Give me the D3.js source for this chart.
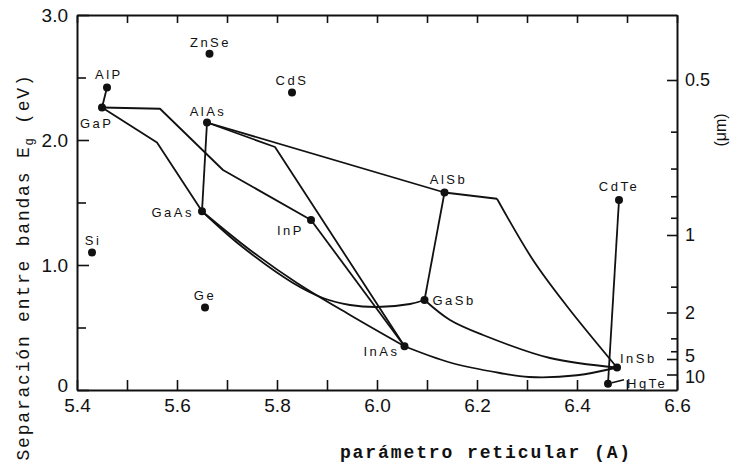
<!DOCTYPE html>
<html>
<head>
<meta charset="utf-8">
<script src="https://cdn.jsdelivr.net/npm/d3@7"></script>
<style>
  body { margin: 0; background: #fff; }
  svg { display: block; }
  .axis .tick text { font-family: "Liberation Sans", Arial, sans-serif; font-size: 19px; fill: #111; }
  .axis.right .tick text { font-size: 18px; }
  .axis path { stroke: #111; stroke-width: 2; }
  .axis line { stroke: #111; stroke-width: 1.6; }
  .compound { font-family: "Liberation Sans", Arial, sans-serif; font-size: 13px; letter-spacing: 2.5px; fill: #111; }
  .alloy { fill: none; stroke: #111; stroke-width: 1.8; stroke-linejoin: round; }
</style>
</head>
<body>
<script>
// compounds: lattice constant (A) and band gap (eV)
var compounds    = ["AlP", "GaP", "ZnSe", "CdS", "AlAs", "GaAs", "InP", "Si", "Ge", "AlSb", "GaSb", "InAs", "InSb", "HgTe", "CdTe"];
var latticeConst = [5.46, 5.45, 5.665, 5.83, 5.66, 5.65, 5.868, 5.43, 5.656, 6.135, 6.095, 6.055, 6.48, 6.462, 6.484];
var bandGap      = [2.42, 2.26, 2.69, 2.38, 2.14, 1.43, 1.36, 1.10, 0.66, 1.58, 0.72, 0.35, 0.18, 0.05, 1.52];

// alloy lines drawn as straight segments [a, Eg]
var alpGap   = [[5.46, 2.42], [5.45, 2.26]];
var gaasp    = [[5.45, 2.26], [5.56, 1.98], [5.65, 1.43]];
var gainp    = [[5.45, 2.26], [5.566, 2.25], [5.692, 1.76], [5.868, 1.36]];
var alGaAs   = [[5.66, 2.14], [5.65, 1.43]];
var alInAs   = [[5.66, 2.14], [5.796, 1.944], [6.055, 0.35]];
var inAsP    = [[5.868, 1.36], [6.055, 0.35]];
var alAsSb   = [[5.66, 2.14], [6.135, 1.58]];
var alGaSb   = [[6.135, 1.58], [6.095, 0.72]];
var alInSbTop = [[6.135, 1.58], [6.24, 1.53]];
var cdHgTe   = [[6.484, 1.52], [6.462, 0.05]];

// alloy lines with bowing (curved)
var gaAsSb   = [[5.65, 1.43], [5.726, 1.16], [5.832, 0.856], [5.892, 0.736], [5.946, 0.68], [6.0, 0.664], [6.066, 0.688], [6.095, 0.72]];
var gaInAs   = [[5.65, 1.43], [5.746, 1.12], [5.84, 0.856], [5.946, 0.6], [6.055, 0.35]];
var gaInSb   = [[6.095, 0.72], [6.146, 0.56], [6.212, 0.44], [6.346, 0.256], [6.48, 0.18]];
var inAsSb   = [[6.055, 0.35], [6.146, 0.22], [6.246, 0.136], [6.304, 0.104], [6.4, 0.118], [6.48, 0.18]];
var alInSb   = [[6.24, 1.53], [6.312, 1.04], [6.38, 0.67], [6.48, 0.18]];

var straightLines = [alpGap, gaasp, gainp, alGaAs, alInAs, inAsP, alAsSb, alGaSb, alInSbTop, cdHgTe];
var curvedLines = [gaAsSb, gaInAs, gaInSb, inAsSb, alInSb];

// axis ticks
var xTickValues = [5.4, 5.5, 5.6, 5.7, 5.8, 5.9, 6.0, 6.1, 6.2, 6.3, 6.4, 6.5, 6.6];
var xTickLabels = ["5.4", "", "5.6", "", "5.8", "", "6.0", "", "6.2", "", "6.4", "", "6.6"];
var yTickValues = [0, 0.5, 1, 1.5, 2, 2.5, 3];
var yTickLabels = ["0", "", "1.0", "", "2.0", "", "3.0"];
var wavelengths = [0.5, 0.6, 0.7, 0.8, 0.9, 1, 1.5, 2, 3, 4, 5, 10];
var wlLabels    = ["0.5", "", "", "", "", "1", "", "2", "", "", "5", "10"];

// label placement relative to the dot: [dx, dy, anchor]
var labelPos = {
  AlP: [-12, -9, "start"], GaP: [-22, 20, "start"], ZnSe: [1, -7, "middle"], CdS: [0, -8, "middle"],
  AlAs: [1, -7, "middle"], GaAs: [-8, 6, "end"], InP: [-7, 15, "end"], Si: [1, -8, "middle"],
  Ge: [0, -8, "middle"], AlSb: [4, -9, "middle"], GaSb: [8, 5, "start"], InAs: [-5, 10, "end"],
  InSb: [3, -5, "start"], HgTe: [19, 4, "start"], CdTe: [0, -9, "middle"]
};

var margin = {top: 15, right: 58, bottom: 81, left: 77},
    width = 735 - margin.left - margin.right,
    height = 471 - margin.top - margin.bottom;

var x = d3.scaleLinear().domain([5.4, 6.6]).range([0, width]);
var y = d3.scaleLinear().domain([0, 3]).range([height, 0]);

var root = d3.select("body").append("svg")
    .attr("width", width + margin.left + margin.right)
    .attr("height", height + margin.top + margin.bottom);

var svg = root.append("g")
    .attr("transform", "translate(" + margin.left + "," + margin.top + ")");

// axes, ticks pointing inward
svg.append("g")
    .attr("class", "axis")
    .attr("transform", "translate(0," + height + ")")
    .call(d3.axisBottom(x).tickValues(xTickValues).tickSize(-10).tickSizeOuter(0)
      .tickPadding(9).tickFormat(function(d, i) { return xTickLabels[i]; }));

svg.append("g")
    .attr("class", "axis")
    .call(d3.axisTop(x).tickValues(xTickValues).tickSize(-8).tickSizeOuter(0).tickFormat(""));

var yAxis = svg.append("g")
    .attr("class", "axis")
    .call(d3.axisLeft(y).tickValues(yTickValues).tickSize(-12).tickSizeOuter(0)
      .tickPadding(9).tickFormat(function(d, i) { return yTickLabels[i]; }));
yAxis.selectAll(".tick line").attr("x2", function(d, i) { return yTickLabels[i] ? 12 : 9; });
// the "0" sits a little above the corner
yAxis.selectAll(".tick text").filter(function(d) { return d === 0; }).attr("dy", "0.1em");

var rAxis = svg.append("g")
    .attr("class", "axis right")
    .attr("transform", "translate(" + width + ",0)")
    .call(d3.axisRight(y).tickValues(wavelengths.map(function(l) { return 1.24 / l; }))
      .tickSize(-10).tickSizeOuter(0).tickPadding(8)
      .tickFormat(function(d, i) { return wlLabels[i]; }));
rAxis.selectAll(".tick line").attr("x2", function(d, i) { return wlLabels[i] ? -10 : -6; });
rAxis.selectAll(".tick text").attr("dy", function(d, i) {
  return wlLabels[i] === "5" ? "0.15em" : wlLabels[i] === "10" ? "0.45em" : "0.32em";
});

// alloy lines
var straight = d3.line().x(function(d) { return x(d[0]); }).y(function(d) { return y(d[1]); });
var curved = d3.line().x(function(d) { return x(d[0]); }).y(function(d) { return y(d[1]); })
    .curve(d3.curveCatmullRom.alpha(0.5));

svg.selectAll(".straight")
    .data(straightLines)
    .enter().append("path")
    .attr("class", "alloy straight")
    .attr("d", straight);

svg.selectAll(".curved")
    .data(curvedLines)
    .enter().append("path")
    .attr("class", "alloy curved")
    .attr("d", curved);

// compounds
var points = compounds.map(function(c, i) {
  return {name: c, a: latticeConst[i], eg: bandGap[i]};
});

svg.selectAll(".dot")
    .data(points)
    .enter().append("circle")
    .attr("class", "dot")
    .attr("cx", function(d) { return x(d.a); })
    .attr("cy", function(d) { return y(d.eg); })
    .attr("r", 4)
    .attr("fill", "#111");

svg.selectAll(".compound")
    .data(points)
    .enter().append("text")
    .attr("class", "compound")
    .attr("x", function(d) { return x(d.a) + labelPos[d.name][0]; })
    .attr("y", function(d) { return y(d.eg) + labelPos[d.name][1]; })
    .attr("text-anchor", function(d) { return labelPos[d.name][2]; })
    .text(function(d) { return d.name; });

// leader for HgTe
var hg = points[compounds.indexOf("HgTe")];
svg.append("line")
    .attr("x1", x(hg.a) + 4).attr("y1", y(hg.eg) - 1)
    .attr("x2", x(hg.a) + 16).attr("y2", y(hg.eg) - 4)
    .attr("stroke", "#111").attr("stroke-width", 1.5);

// titles
var yTitle = root.append("text")
    .attr("transform", "translate(29,267) rotate(-90)")
    .attr("text-anchor", "middle")
    .style("font-family", "'Liberation Mono', 'DejaVu Sans Mono', monospace")
    .style("font-size", "18px")
    .style("letter-spacing", "1.8px")
    .attr("fill", "#111");
yTitle.append("tspan").text("Separación entre bandas E");
yTitle.append("tspan").attr("dy", 4).style("font-size", "12px").text("g");
yTitle.append("tspan").attr("dy", -4).text(" (eV)");

root.append("text")
    .attr("x", 486)
    .attr("y", 458)
    .attr("text-anchor", "middle")
    .style("font-family", "'Liberation Mono', 'DejaVu Sans Mono', monospace")
    .style("font-size", "18px")
    .style("font-weight", "bold")
    .style("letter-spacing", "1.9px")
    .attr("fill", "#111")
    .text("parámetro reticular (A)");

root.append("text")
    .attr("transform", "translate(726,130) rotate(-90)")
    .attr("text-anchor", "middle")
    .style("font-family", "'Liberation Sans', Arial, sans-serif")
    .style("font-size", "16px")
    .attr("fill", "#111")
    .text("(μm)");
</script>
</body>
</html>
